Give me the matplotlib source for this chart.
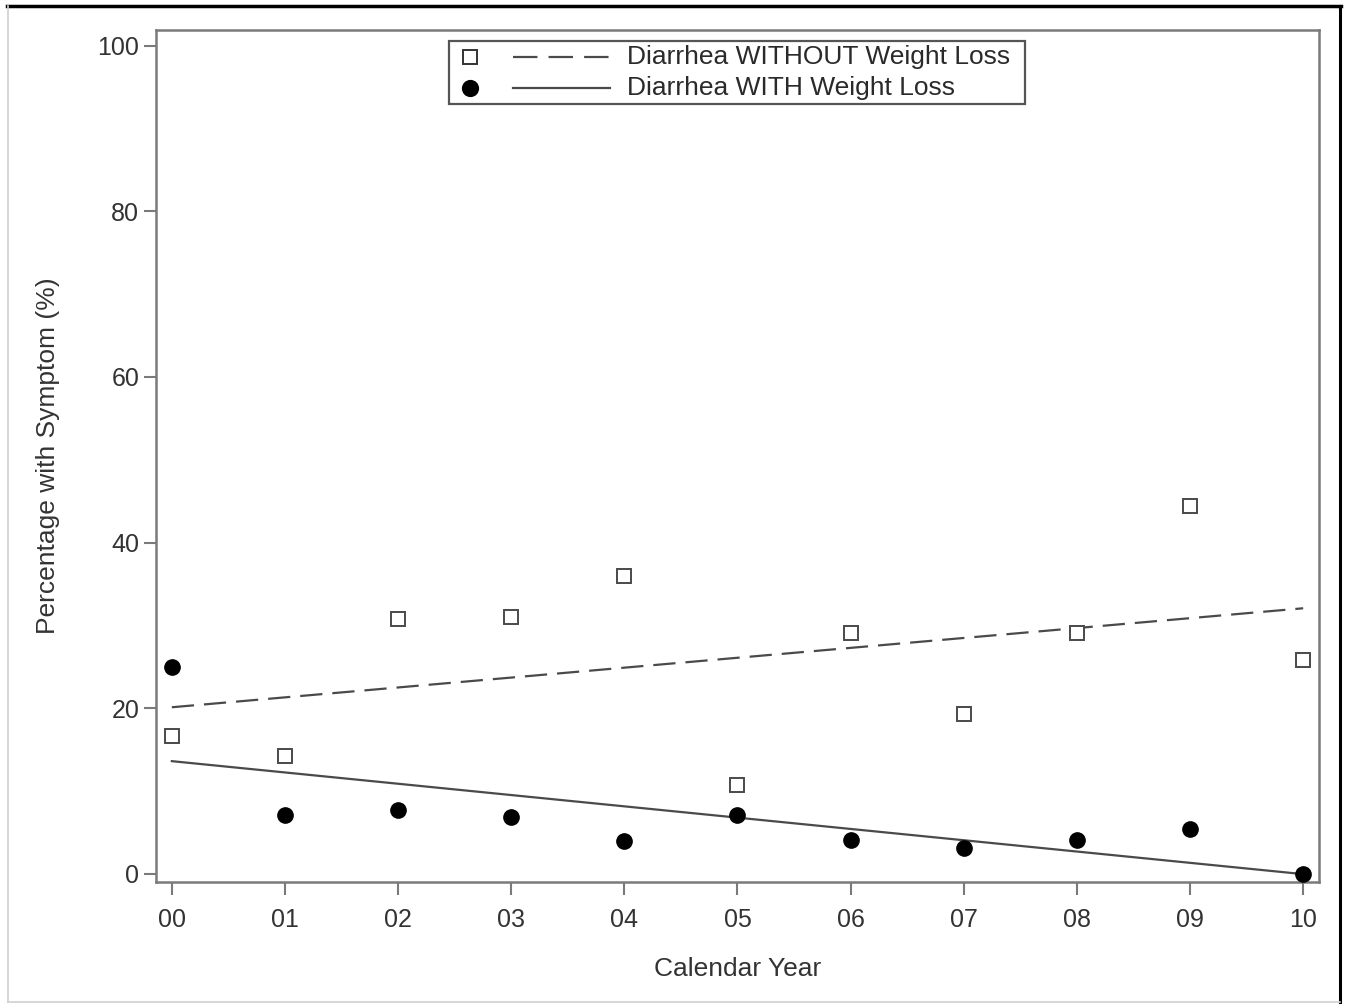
import matplotlib
matplotlib.use('Agg')
import matplotlib.pyplot as plt
from matplotlib.lines import Line2D
from matplotlib.patches import Rectangle
import numpy as np

plt.rcParams['font.family'] = ['Liberation Sans', 'DejaVu Sans']

# data
years = [0, 1, 2, 3, 4, 5, 6, 7, 8, 9, 10]
year_labels = ['00', '01', '02', '03', '04', '05', '06', '07', '08', '09', '10']
without_wl = [16.6, 14.2, 30.8, 31.0, 35.9, 10.7, 29.1, 19.3, 29.1, 44.4, 25.8]
with_wl = [25.0, 7.1, 7.7, 6.9, 4.0, 7.1, 4.1, 3.1, 4.1, 5.4, 0.0]
yticks = [0, 20, 40, 60, 80, 100]

W, H = 1352, 1005
fig = plt.figure(figsize=(W / 100, H / 100), dpi=100)
ax = fig.add_axes([156 / W, 1 - 882 / H, (1319 - 156) / W, (882 - 30) / H])

line_col = '#4a4a4a'
spine_col = '#7a7a7a'
text_col = '#333333'
dash = (10, 4.5)

# linear trend lines
x = np.array(years)
fit1 = np.polyfit(x, without_wl, 1)
fit2 = np.polyfit(x, with_wl, 1)
ax.plot(x, np.polyval(fit1, x), color=line_col, lw=1.6, dashes=dash)
ax.plot(x, np.polyval(fit2, x), color=line_col, lw=1.6)

ax.plot(years, without_wl, ls='none', marker='s', ms=10, mfc='white',
        mec='#4a4a4a', mew=1.4, zorder=3)
ax.plot(years, with_wl, ls='none', marker='o', ms=11, mfc='black',
        mec='black', zorder=3, clip_on=False)

ax.set_xlim(-0.14, 10.14)
ax.set_ylim(-1.0, 101.9)
ax.set_xticks(years)
ax.set_xticklabels(year_labels)
ax.set_yticks(yticks)

for s in ax.spines.values():
    s.set_color(spine_col)
    s.set_linewidth(1.8)
ax.tick_params(axis='both', colors=spine_col, labelcolor=text_col,
               labelsize=18, length=9, width=1.5, direction='out')
ax.tick_params(axis='x', pad=10)
ax.tick_params(axis='y', pad=3)

ax.set_xlabel('Calendar Year', fontsize=19, color=text_col, labelpad=18)
ax.set_ylabel('Percentage with Symptom (%)', fontsize=19, color=text_col, labelpad=27)

# legend box drawn by hand (marker, then line, then text)
def fx(px):
    return px / W

def fy(py):
    return 1 - py / H

fig.patches.append(Rectangle((fx(449), fy(104)), fx(1025) - fx(449), fy(41) - fy(104),
                             transform=fig.transFigure, fill=False,
                             edgecolor='#555555', lw=1.6, zorder=5))
rows = [(57, 's', 'white', (11, 5), 'Diarrhea WITHOUT Weight Loss'),
        (88, 'o', 'black', None, 'Diarrhea WITH Weight Loss')]
for py, mk, fc, ldash, label in rows:
    fig.add_artist(Line2D([fx(470)], [fy(py)], marker=mk, ms=10 if mk == 's' else 11,
                          mfc=fc, mec='#333333' if mk == 's' else 'black', mew=1.4,
                          ls='none', transform=fig.transFigure))
    ln = Line2D([fx(513), fx(610)], [fy(py), fy(py)], color=line_col, lw=1.6,
                transform=fig.transFigure)
    if ldash:
        ln.set_dashes(ldash)
    fig.add_artist(ln)
    fig.text(fx(627), fy(py), label, fontsize=19, color='#2a2a2a', va='center', ha='left')

# outer frame of the image
fig.add_artist(Line2D([fx(7), fx(1341)], [fy(6), fy(6)], color='black', lw=2.5,
                      transform=fig.transFigure))
fig.add_artist(Line2D([fx(1340), fx(1340)], [fy(6), fy(1002)], color='black', lw=2.2,
                      transform=fig.transFigure))
fig.add_artist(Line2D([fx(8), fx(8)], [fy(6), fy(1002)], color='#d0d0d0', lw=1.2,
                      transform=fig.transFigure))
fig.add_artist(Line2D([fx(8), fx(1340)], [fy(1002), fy(1002)], color='#d0d0d0', lw=1.2,
                      transform=fig.transFigure))

fig.savefig('out.png', dpi=100)
